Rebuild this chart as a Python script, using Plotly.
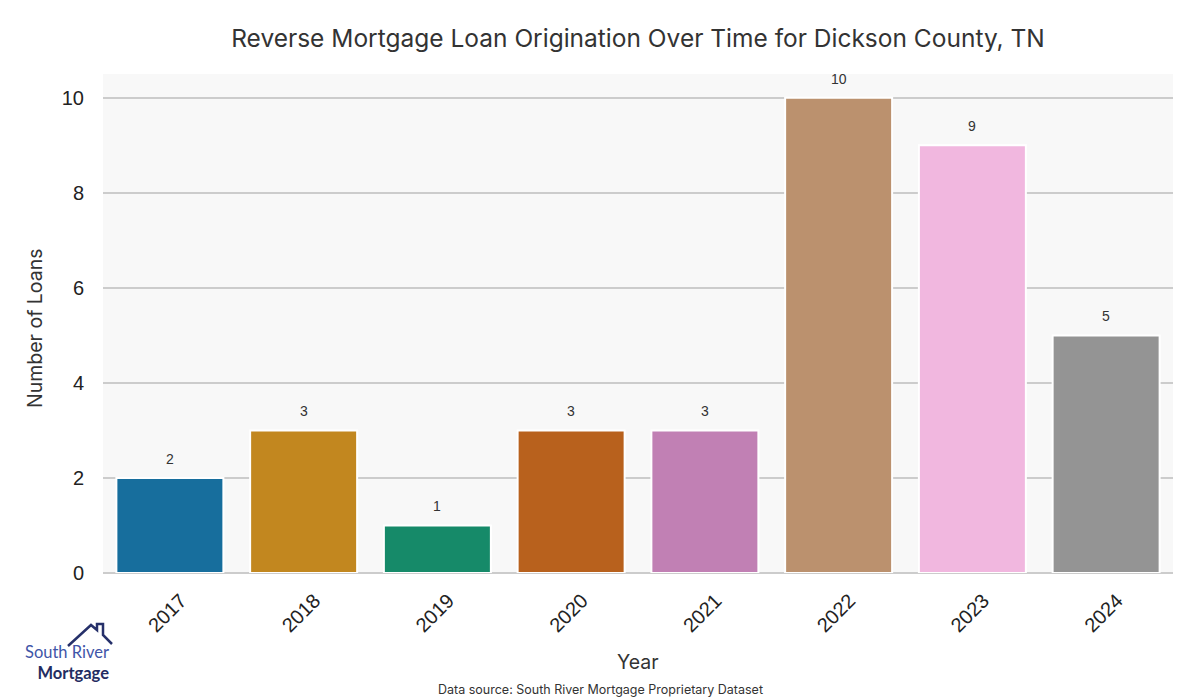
import plotly.graph_objects as go

years = ["2017", "2018", "2019", "2020", "2021", "2022", "2023", "2024"]
loans = [2, 3, 1, 3, 3, 10, 9, 5]
colors = ["#176e9d", "#c2871f", "#168a69", "#b8611d", "#c180b4",
          "#bb916e", "#f1b7df", "#949494"]

# page has an 8px body margin, so figure is 1192x692 placed at (8, 8)
OFF = 8
W, H = 1192, 692
PL, PR, PT, PB = 103, 1173, 74, 573  # plot area in screenshot pixels
L, R, T, B = PL - OFF, W - (PR - OFF), PT - OFF, H - (PB - OFF)


def px_to_paper(x, y):
    return (x - PL) / (PR - PL), (PB - y) / (PB - PT)


fig = go.Figure()
fig.add_trace(go.Bar(
    x=years, y=loans, width=0.8,
    marker=dict(color=colors, line=dict(color="white", width=2)),
    hoverinfo="x+y", showlegend=False,
))

for i, v in enumerate(loans):
    fig.add_annotation(x=i, y=v, xref="x", yref="y", text=str(v), showarrow=False,
                       yshift=19,
                       font=dict(family="Liberation Sans, Arial", size=14, color="#333333"))

# logo house
pts = [(68, 646), (91, 625), (97, 630), (97, 624), (103, 624), (103, 635), (112, 644)]
path = ""
for i, (px, py) in enumerate(pts):
    xp, yp = px_to_paper(px, py)
    path += ("M" if i == 0 else "L") + f"{xp:.5f},{yp:.5f} "
fig.add_shape(type="path", path=path, xref="paper", yref="paper",
              line=dict(color="#26306a", width=2.5))
x1, y1 = px_to_paper(111, 662)
fig.add_annotation(x=x1, y=y1, xref="paper", yref="paper",
                   text="<span style='color:#3f55a8'>South River</span><br>"
                        "<b><span style='color:#232c62'>Mortgage</span></b>",
                   xanchor="right", yanchor="middle", align="right",
                   showarrow=False, font=dict(family="Lato", size=16.5, color="#3f55a8"))

# data source
x3, y3 = px_to_paper(600, 689)
fig.add_annotation(x=x3, y=y3, xref="paper", yref="paper",
                   text="Data source: South River Mortgage Proprietary Dataset",
                   xanchor="center", yanchor="middle",
                   showarrow=False, font=dict(family="Inter", size=12.5, color="#333333"))

# axis titles
xt, yt = px_to_paper(638, 662)
fig.add_annotation(x=xt, y=yt, xref="paper", yref="paper", text="Year",
                   xanchor="center", yanchor="middle", showarrow=False,
                   font=dict(family="Inter", size=19.5, color="#333333"))
xt, yt = px_to_paper(35, 328)
fig.add_annotation(x=xt, y=yt, xref="paper", yref="paper", text="Number of Loans",
                   xanchor="center", yanchor="middle", showarrow=False, textangle=-90,
                   font=dict(family="Inter", size=19.5, color="#333333"))

fig.update_layout(
    width=W, height=H,
    margin=dict(l=L, r=R, t=T, b=B, autoexpand=False),
    paper_bgcolor="white", plot_bgcolor="#f8f8f8",
    title=dict(text="Reverse Mortgage Loan Origination Over Time for Dickson County, TN",
               x=(638 - OFF) / W, xanchor="center", y=1 - (38 - OFF) / H, yanchor="middle",
               font=dict(family="Inter", size=24.5, color="#333333")),
    bargap=0.2,
)
fig.update_xaxes(
    type="category", range=[-0.5, 7.5], tickangle=-45, automargin=False,
    tickfont=dict(family="Liberation Sans, Arial", size=20, color="#222222"),
    ticklabelshift=11, ticklabelstandoff=11,
    showgrid=False, ticks="", showline=False,
)
fig.update_yaxes(
    range=[0, 10.5], tickvals=[0, 2, 4, 6, 8, 10], automargin=False,
    tickfont=dict(family="Liberation Sans, Arial", size=20, color="#222222"),
    ticklabelstandoff=18,
    showgrid=True, gridcolor="#cccccc", gridwidth=1.5, zeroline=True, zerolinecolor="#cccccc",
    zerolinewidth=1.5, ticks="", showline=False,
)

fig.write_html("out.html")
